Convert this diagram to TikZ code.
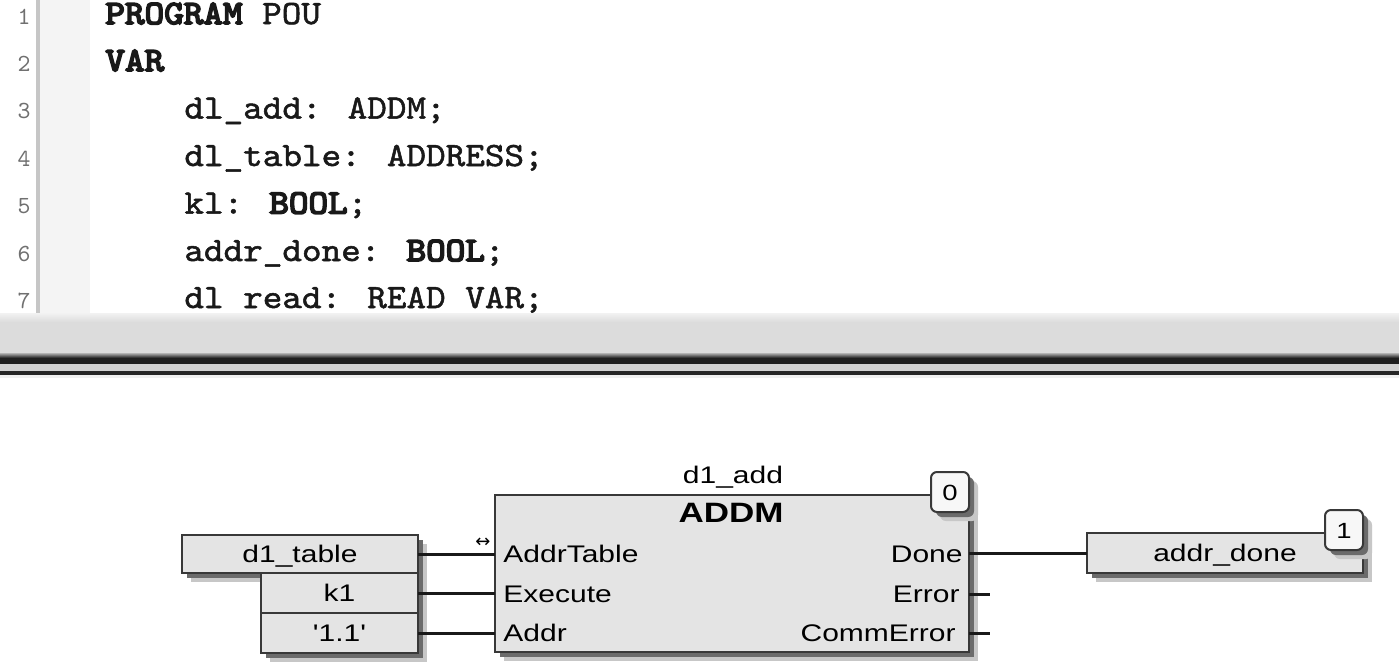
\documentclass[tikz,border=0pt]{standalone}
\usepackage{fontspec}
\usetikzlibrary{shadows}
\setmainfont{Liberation Sans}
\newfontfamily\code[Extension=.otf,FakeBold=1.5,FakeStretch=1.098]{lmmono10-regular}
\newfontfamily\codeb[Extension=.otf,FakeBold=5,FakeStretch=1.098]{lmmono10-regular}
\newfontfamily\lnfont[Extension=.otf]{lmmono10-regular}
\newfontfamily\fb[FakeStretch=1.25]{Liberation Sans}
\newfontfamily\symf{DejaVu Sans}
\definecolor{fbfill}{HTML}{E4E4E4}
\definecolor{fbline}{HTML}{383838}
\definecolor{barg}{HTML}{DCDCDC}
\definecolor{lngray}{HTML}{707070}
\tikzset{
  fbshadow/.style={general shadow={shadow xshift=4.5pt,shadow yshift=-4.5pt,fill=black!22},
                   general shadow={shadow xshift=2.5pt,shadow yshift=-2.5pt,fill=black!58}},
  varbox/.style={draw=fbline, fill=fbfill, line width=1pt, inner sep=0pt, outer sep=0pt,
                 text height=8.5pt, text depth=0pt, font=\fb\fontsize{12}{14}\selectfont, fbshadow},
  fbblock/.style={draw=fbline, fill=fbfill, line width=1pt, inner sep=0pt, outer sep=0pt, fbshadow},
  badge/.style={draw=fbline, fill=white!94!gray, rounded corners=3pt, line width=1pt, inner sep=0pt,
                outer sep=0pt, minimum width=19pt, minimum height=20pt, text height=8pt, text depth=0pt,
                font=\fb\fontsize{11}{12}\selectfont, fbshadow},
  pinlbl/.style={inner sep=0pt, font=\fb\fontsize{12}{14}\selectfont},
  codetext/.style={anchor=base west, inner sep=0pt, font=\code\fontsize{17}{20}\selectfont, text=black!90},
  lnum/.style={anchor=base, inner sep=0pt, font=\lnfont\fontsize{12.3}{14}\selectfont, text=lngray},
  conn/.style={line width=1.5pt, black!90}
}
\begin{document}
\begin{tikzpicture}[x=0.5pt,y=-0.5pt]
\useasboundingbox (0,0) rectangle (1399,661);
\fill[white] (0,0) rectangle (1399,661);
% editor gutter
\fill[gray!9] (40,0) rectangle (90,313);
\fill[gray!45] (36,0) rectangle (40,313);
% line numbers
\node[lnum] (n1) at (24,24) {1};
\node[lnum] (n2) at (24,71) {2};
\node[lnum] (n3) at (24,118.5) {3};
\node[lnum] (n4) at (24,166) {4};
\node[lnum] (n5) at (24,213.5) {5};
\node[lnum] (n6) at (24,261) {6};
\node[lnum] (n7) at (24,308) {7};
% code
\node[codetext] (c1) at (105,24) {{\codeb PROGRAM} POU};
\node[codetext] (c2) at (105,71) {{\codeb VAR}};
\node[codetext] (c3) at (184,118.5) {dl\_add: ADDM;};
\node[codetext] (c4) at (184,166) {dl\_table: ADDRESS;};
\node[codetext] (c5) at (184,213.5) {kl: {\codeb BOOL};};
\node[codetext] (c6) at (184,261) {addr\_done: {\codeb BOOL};};
\node[codetext] (c7) at (184,308) {dl read: READ VAR;};
% splitter bar
\fill[barg] (0,313) rectangle (1399,356);
\shade[top color=white!90!gray, bottom color=barg] (0,313) rectangle (1399,322);
\shade[top color=gray!60, bottom color=black!90] (0,353) rectangle (1399,358);
\fill[black!88] (0,358) rectangle (1399,364);
\fill[gray!35] (0,364) rectangle (1399,371);
\fill[black!85] (0,371) rectangle (1399,375);
\fill[gray!12] (0,375) rectangle (1399,378);
% function block
\node[fbblock, minimum width=237pt, minimum height=78.5pt] (blk) at (732,573.5) {};
\node[badge] (b0) at (950,492) {0};
\node[anchor=base, inner sep=0pt, font=\fb\fontsize{12}{14}\selectfont] (inst) at (733,483) {d1\_add};
\node[anchor=base, inner sep=0pt, font=\fb\bfseries\fontsize{14}{16}\selectfont] (type) at (731,522) {ADDM};
\node[pinlbl, anchor=base west] (pA) at (503,562) {AddrTable};
\node[pinlbl, anchor=base west] (pE) at (503,602) {Execute};
\node[pinlbl, anchor=base west] (pR) at (503,641) {Addr};
\node[pinlbl, anchor=base east] (pD) at (963,562) {Done};
\node[pinlbl, anchor=base east] (pEr) at (960,602) {Error};
\node[pinlbl, anchor=base east] (pC) at (956,641) {CommError};
\node[inner sep=0pt, font=\symf\fontsize{9}{10}\selectfont] (bidir) at (483,543) {↔};
% input variables
\node[varbox, minimum width=118pt, minimum height=19pt] (d1table) at (300,554) {d1\_table};
\node[varbox, minimum width=78.5pt, minimum height=20pt] (k1) at (339.5,593) {k1};
\node[varbox, minimum width=78.5pt, minimum height=20pt] (q11) at (339.5,633) {'1.1'};
% output variable
\node[varbox, minimum width=138pt, minimum height=20pt] (addr) at (1225,553) {addr\_done};
\node[badge, minimum width=19pt] (b1) at (1344,530) {1};
% connectors
\draw[conn] (d1table.east) -- (blk.west |- d1table.east);
\draw[conn] (k1.east) -- (blk.west |- k1.east);
\draw[conn] (q11.east) -- (blk.west |- q11.east);
\draw[conn] (blk.east |- addr.west) -- (addr.west);
\coordinate (errEnd) at (990,594);
\coordinate (cerrEnd) at (990,633);
\draw[conn] (blk.east |- errEnd) -- (errEnd);
\draw[conn] (blk.east |- cerrEnd) -- (cerrEnd);
\end{tikzpicture}
\end{document}
